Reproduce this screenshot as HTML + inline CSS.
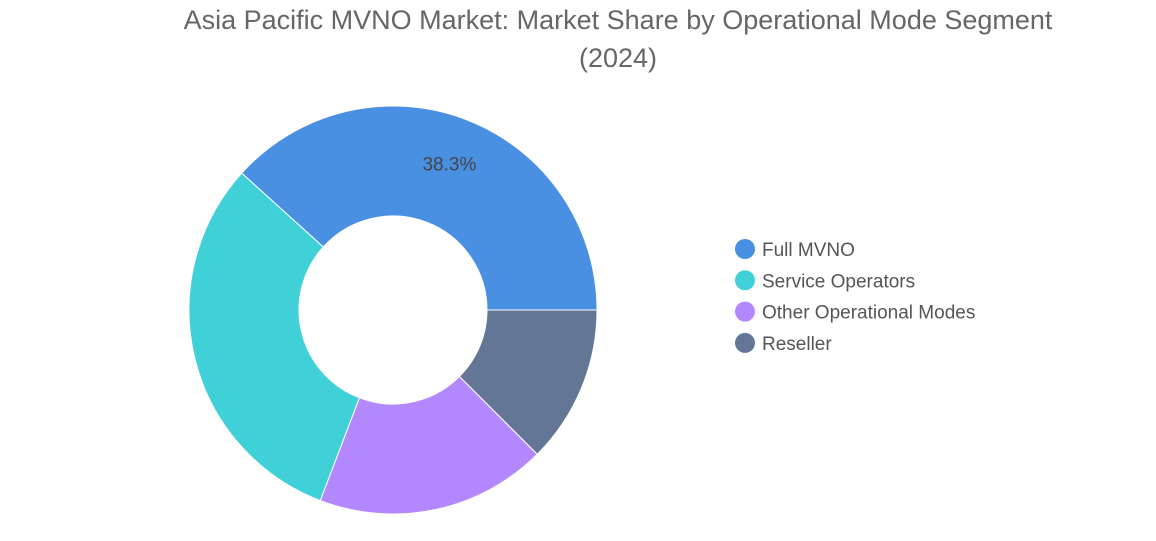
<!DOCTYPE html>
<html><head><meta charset="utf-8"><style>
body{margin:0;background:#fff;font-family:"Liberation Sans",sans-serif}
#wrap{position:relative;width:1156px;height:541px;overflow:hidden}
</style></head><body>
<div id="wrap">
<svg id="chart" width="1156" height="541">
<text x="618" y="29" text-anchor="middle" font-size="27" fill="#666">Asia Pacific MVNO Market: Market Share by Operational Mode Segment</text>
<text x="618" y="67" text-anchor="middle" font-size="27" fill="#666">(2024)</text>
<g id="slices"></g>
<g id="legend"></g>
</svg>
</div>
<script>
const categories=["Full MVNO","Service Operators","Other Operational Modes","Reseller"];
const shares=[38.3,30.9,18.3,12.5];
const labels=["38.3%","","",""];
const colors=["#4A90E2","#40D0D8","#B388FF","#647696"];
const NS="http://www.w3.org/2000/svg";
const cx=393,cy=310,R=204,r=94;
const total=shares.reduce((a,b)=>a+b,0);
const sg=document.getElementById('slices');
let a0=0;
function pt(rad,a){return [cx+rad*Math.cos(a),cy+rad*Math.sin(a)];}
shares.forEach((v,i)=>{
  const sweep=v/total*2*Math.PI;
  const a1=a0-sweep;
  const large=sweep>Math.PI?1:0;
  const p1=pt(R,a0),p2=pt(R,a1),p3=pt(r,a1),p4=pt(r,a0);
  const d=`M${p1[0]},${p1[1]} A${R},${R} 0 ${large} 0 ${p2[0]},${p2[1]} L${p3[0]},${p3[1]} A${r},${r} 0 ${large} 1 ${p4[0]},${p4[1]} Z`;
  const p=document.createElementNS(NS,'path');
  p.setAttribute('d',d);p.setAttribute('fill',colors[i]);p.setAttribute('stroke','#fff');p.setAttribute('stroke-width','1');
  
  
  sg.appendChild(p);
  if(labels[i]){
    const am=(a0+a1)/2, lp=pt((R+r)/2+8,am);
    const t=document.createElementNS(NS,'text');
    t.setAttribute('x',lp[0]);t.setAttribute('y',lp[1]+7);t.setAttribute('text-anchor','middle');
    t.setAttribute('font-size','19');t.setAttribute('fill','#444');t.textContent=labels[i];
    
    
    sg.appendChild(t);
  }
  a0=a1;
});
const lg=document.getElementById('legend');
categories.forEach((c,i)=>{
  const y=249+i*31.3;
  const g=document.createElementNS(NS,'g');
  
  
  const ci=document.createElementNS(NS,'circle');
  ci.setAttribute('cx',745);ci.setAttribute('cy',y);ci.setAttribute('r',10);ci.setAttribute('fill',colors[i]);
  const t=document.createElementNS(NS,'text');
  t.setAttribute('x',762);t.setAttribute('y',y+7);t.setAttribute('font-size','19');t.setAttribute('fill','#555');t.textContent=c;
  g.appendChild(ci);g.appendChild(t);lg.appendChild(g);
});
</script>
</body></html>
